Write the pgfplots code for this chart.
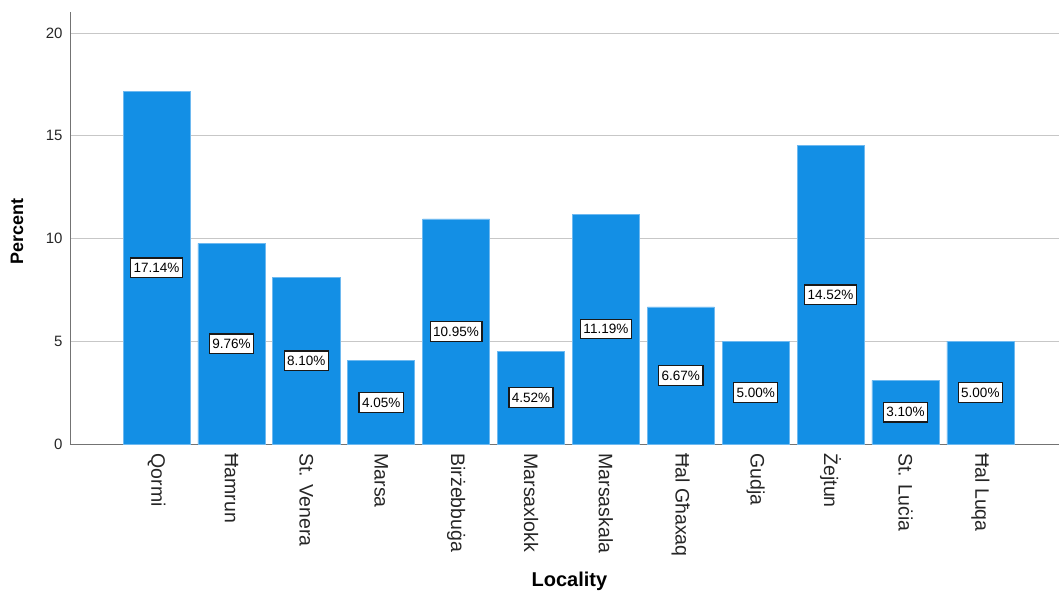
\documentclass[border=0pt]{standalone}
\usepackage{fontspec}
\setmainfont{Liberation Sans}
\usepackage{pgfplots}
\pgfplotsset{compat=1.18}
\definecolor{barblue}{RGB}{19,143,229}
\definecolor{baredge}{RGB}{110,185,240}
\begin{document}
\begin{tikzpicture}[x=1pt,y=1pt]
\path[use as bounding box] (0,0) rectangle (1059,597);
\begin{axis}[
  at={(70pt,153pt)}, anchor=south west,
  scale only axis, width=989pt, height=432pt,
  xmin=-1.155, xmax=12.05, ymin=0, ymax=21.02,
  axis x line*=bottom, axis y line*=left,
  axis line style={draw=black!55, line width=0.9pt},
  major tick length=0pt,
  ytick={0,5,10,15,20},
  ymajorgrids, grid style={black!22, line width=0.9pt},
  xtick={0,...,11},
  xticklabels={Qormi,Ħamrun,St. Venera,Marsa,Birżebbuġa,Marsaxlokk,Marsaskala,Ħal Għaxaq,Gudja,Żejtun,St. Luċia,Ħal Luqa},
  x tick label style={rotate=-90, anchor=west, xshift=6pt, font=\fontsize{19.5}{20}\selectfont, text=black!85},
  y tick label style={xshift=-4pt, font=\fontsize{15}{16}\selectfont, text=black!85},
  /pgf/number format/assume math mode=true,
  xlabel={\textbf{Locality}},
  ylabel={\textbf{Percent}},
  xlabel style={at={(axis description cs:0.505,-0.319)}, anchor=center, font=\fontsize{20}{22}\selectfont},
  ylabel style={at={(axis description cs:-0.0536,0.491)}, anchor=center, rotate=0, font=\fontsize{18}{20}\selectfont},
]
\addplot[ybar, bar width=67pt, fill=barblue, draw=baredge, line width=0.6pt,
  nodes near coords={\pgfmathprintnumber[fixed,fixed zerofill,precision=2]{\pgfplotspointmeta}\%},
  visualization depends on={rawy \as \rawy},
  every node near coord/.append style={anchor=center, shift={(axis direction cs:0,-0.5*\rawy)}, fill=white, draw=black!90, line width=1.3pt, inner xsep=3pt, inner ysep=5pt, font=\fontsize{13.5}{14}\selectfont, text=black}
] coordinates {
(0,17.14) (1,9.76) (2,8.10) (3,4.05) (4,10.95) (5,4.52)
(6,11.19) (7,6.67) (8,5.00) (9,14.52) (10,3.10) (11,5.00)
};
\end{axis}
\end{tikzpicture}
\end{document}
